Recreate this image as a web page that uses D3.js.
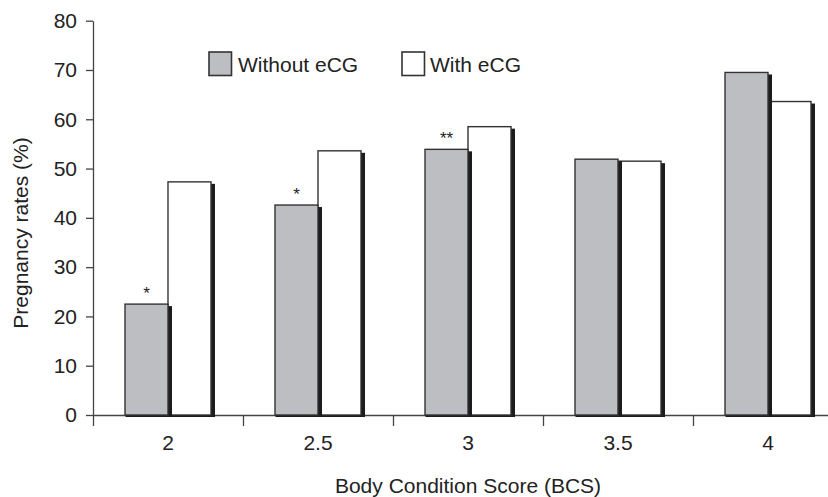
<!DOCTYPE html>
<html>
<head>
<meta charset="utf-8">
<script src="https://cdn.jsdelivr.net/npm/d3@7"></script>
<style>
  html, body { margin: 0; padding: 0; background: #fff; }
  svg { display: block; }
  text { font-family: "Liberation Sans", Arial, Helvetica, sans-serif; fill: #222; }
</style>
</head>
<body>
<svg id="chart" width="828" height="497"></svg>
<script>
// ---- data ----
const categories = ["2", "2.5", "3", "3.5", "4"];
const seriesNames = ["Without eCG", "With eCG"];
const withoutECG = [22.5, 42.6, 53.9, 51.9, 69.5];
const withECG = [47.3, 53.6, 58.5, 51.5, 63.6];
const significance = ["*", "*", "**", "", ""];
const yTicks = [0, 10, 20, 30, 40, 50, 60, 70, 80];
const xTitle = "Body Condition Score (BCS)";
const yTitle = "Pregnancy rates (%)";

(function () {
// ---- layout ----
const svg = d3.select("#chart");
const mLeft = 93, mRight = 843, mTop = 20.7, mBottom = 415;
const fs = 21;

const x0 = d3.scaleBand().domain(categories).range([mLeft, mRight])
  .paddingInner(0.4267).paddingOuter(0.2133);
const x1 = d3.scaleBand().domain(seriesNames).range([0, x0.bandwidth()]).padding(0);
const y = d3.scaleLinear().domain([0, 80]).range([mBottom, mTop]);
const colors = { "Without eCG": "#bdbec1", "With eCG": "#ffffff" };

// boundary ticks for x axis
const xb = d3.scaleLinear().domain([0, categories.length]).range([mLeft, mRight]);
const gxb = svg.append("g").attr("transform", `translate(0,${mBottom})`)
  .call(d3.axisBottom(xb).tickValues(d3.range(0, categories.length + 1)).tickSize(11).tickSizeOuter(0).tickFormat(""));
gxb.select(".domain").attr("stroke", "#444").attr("stroke-width", 1.3);
gxb.selectAll(".tick line").attr("stroke", "#444").attr("stroke-width", 1.3);

// x tick labels
const gx = svg.append("g").attr("transform", `translate(0,${mBottom})`)
  .call(d3.axisBottom(x0).tickSize(0).tickPadding(20));
gx.select(".domain").remove();
gx.selectAll("text").attr("font-size", fs).attr("fill", "#222")
  .style("font-family", "'Liberation Sans', Arial, sans-serif");

// y axis
const gy = svg.append("g").attr("transform", `translate(${mLeft},0)`)
  .call(d3.axisLeft(y).tickValues(yTicks).tickSize(7).tickSizeOuter(0).tickPadding(9));
gy.select(".domain").attr("stroke", "#444").attr("stroke-width", 1.3);
gy.selectAll(".tick line").attr("stroke", "#444").attr("stroke-width", 1.3);
gy.selectAll("text").attr("font-size", fs).attr("fill", "#222")
  .style("font-family", "'Liberation Sans', Arial, sans-serif");

// bars: draw "With" first, then "Without" so its shadow overlaps
const rows = categories.map((c, i) => ({ c, vals: [withoutECG[i], withECG[i]], sig: significance[i] }));
const drawOrder = [1, 0];
const barsG = svg.append("g");
drawOrder.forEach(si => {
  const name = seriesNames[si];
  rows.forEach(r => {
    const bx = x0(r.c) + x1(name);
    const by = y(r.vals[si]);
    const bw = x1.bandwidth();
    const bh = mBottom - by;
    barsG.append("rect").attr("x", bx + 0.5).attr("y", by + 2).attr("width", bw + 3.5).attr("height", bh)
      .attr("fill", "#1c1c1c");
    barsG.append("rect").attr("x", bx).attr("y", by).attr("width", bw).attr("height", bh)
      .attr("fill", colors[name]).attr("stroke", "#333").attr("stroke-width", 1.4);
  });
});

// significance stars
svg.append("g").selectAll("text").data(rows).join("text")
  .attr("x", d => x0(d.c) + x1(seriesNames[0]) + x1.bandwidth() / 2)
  .attr("y", d => y(d.vals[0]) - 5)
  .attr("text-anchor", "middle").attr("font-size", 17).attr("fill", "#222")
  .text(d => d.sig);

// legend
const legendItems = [
  { name: seriesNames[0], bx: 209, tx: 238 },
  { name: seriesNames[1], bx: 402, tx: 430 }
];
const lg = svg.append("g");
legendItems.forEach(it => {
  lg.append("rect").attr("x", it.bx).attr("y", 52).attr("width", 22.5).attr("height", 23.5)
    .attr("fill", colors[it.name]).attr("stroke", "#333").attr("stroke-width", 1.6);
  lg.append("text").attr("x", it.tx).attr("y", 71.5).attr("font-size", fs).text(it.name);
});

// titles
svg.append("text").attr("x", (mLeft + mRight) / 2).attr("y", 493).attr("text-anchor", "middle")
  .attr("font-size", fs).text(xTitle);
svg.append("text").attr("transform", "translate(27.5,233) rotate(-90)").attr("text-anchor", "middle")
  .attr("font-size", fs).text(yTitle);
})();
</script>
</body>
</html>
